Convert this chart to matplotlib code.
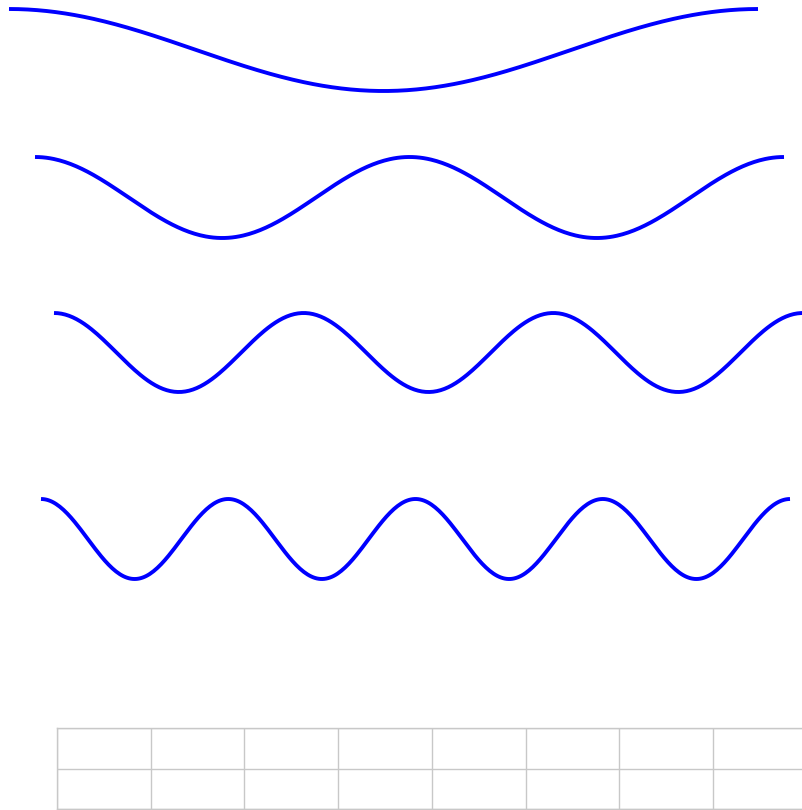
import numpy as np
import matplotlib
matplotlib.use("Agg")
import matplotlib.pyplot as plt

# Data: cosine waves with increasing number of periods over one span
frequencies = [1, 2, 3, 4]
x_span = [0.0, 2 * np.pi]
n_samples = 400

# Layout (pixels) for each wave panel: left, top, bottom
W, H = 802, 810
panel_left = [9, 35, 54, 41]
panel_top = [9, 157, 313, 499]
panel_bottom = [91, 238, 392, 579]
panel_width = 749

fig = plt.figure(figsize=(W / 100, H / 100), dpi=100)

x = np.linspace(x_span[0], x_span[1], n_samples)
for k, l, t, b in zip(frequencies, panel_left, panel_top, panel_bottom):
    ax = fig.add_axes([l / W, 1 - b / H, panel_width / W, (b - t) / H])
    ax.plot(x, np.cos(k * x), color="#0000ff", lw=2.8, clip_on=False,
            solid_capstyle="butt")
    ax.set_xlim(x_span)
    ax.set_ylim(-1, 1)
    ax.axis("off")

# Partially visible grid at the bottom
gl, gt = 57, 728
cell_w, cell_h = 93.7, 40.5
n_cols, n_rows = 8, 2
gax = fig.add_axes([gl / W, 1 - (gt + n_rows * cell_h) / H,
                    n_cols * cell_w / W, n_rows * cell_h / H])
gax.set_xlim(0, n_cols)
gax.set_ylim(0, n_rows)
gax.set_xticks(range(n_cols + 1))
gax.set_yticks(range(n_rows + 1))
gax.tick_params(length=0, labelbottom=False, labelleft=False)
gax.grid(True, color="#c8c8c8", lw=1.0)
for s in gax.spines.values():
    s.set_color("#c8c8c8")
    s.set_linewidth(1.0)
gax.set_facecolor("white")

fig.savefig("out.png", dpi=100)
